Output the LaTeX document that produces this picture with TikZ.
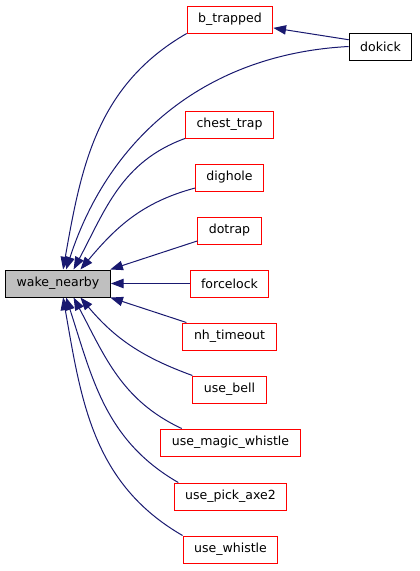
\documentclass[tikz,border=0pt]{standalone}
\usepackage{fontspec}
\setmainfont{DejaVu Sans}
\usetikzlibrary{arrows.meta}

\begin{document}
\begin{tikzpicture}[x=0.75pt,y=-0.75pt,
      every node/.style={font=\fontsize{9.4}{11}\selectfont},
      fn/.style={draw=red,line width=0.75pt,minimum height=20.25pt,inner xsep=8.3pt},
      callee/.style={fn,draw=black,fill=black!25},
      caller/.style={fn,draw=black},
      edge/.style={draw={rgb,255:red,25;green,25;blue,112},line width=0.75pt,
        {Triangle[length=9.5pt,width=7pt]}-}]
    \fill[white] (0,0) rectangle (419,571);
    \useasboundingbox (0,0) rectangle (419,571);

    \node[callee] (wake) at (58,283.5) {wake\_nearby};

    \node[fn] (btrap)     at (230,19.5)    {b\_trapped};
    \node[caller] (dokick) at (380.5,46.5) {dokick};
    \node[fn] (chest)     at (229.5,124.5) {chest\_trap};
    \node[fn] (dighole)   at (229.5,177.5) {dighole};
    \node[fn] (dotrap)    at (229.5,230.5) {dotrap};
    \node[fn] (forcelock) at (229.5,283.5) {forcelock};
    \node[fn] (nhtime)    at (229.5,336.5) {nh\_timeout};
    \node[fn] (usebell)   at (229.5,389.5) {use\_bell};
    \node[fn] (magic)     at (230.5,442.5) {use\_magic\_whistle};
    \node[fn] (pickaxe)   at (230.5,496.5) {use\_pick\_axe2};
    \node[fn] (whistle)   at (230.5,549.5) {use\_whistle};

    % callers above
    \draw[edge] (wake.70) to[out=80,in=210] (btrap.south west);
    \draw[edge] (wake.60) to[out=72,in=183] (dokick.west);
    \draw[edge] (btrap.-11) -- (dokick.168);
    \draw[edge] (wake.42) to[out=62,in=200] (chest.south west);
    \draw[edge] (wake.32) to[out=50,in=195] (dighole.197);
    \draw[edge] (wake.15) -- (dotrap.198);
    \draw[edge] (wake.east) -- (forcelock.west);

    % callers below
    \draw[edge] (wake.-15) -- (nhtime.162);
    \draw[edge] (wake.-32) to[out=-50,in=160] (usebell.north west);
    \draw[edge] (wake.-42) to[out=-62,in=155] (magic.164);
    \draw[edge] (wake.-60) to[out=-72,in=150] (pickaxe.165);
    \draw[edge] (wake.-70) to[out=-80,in=150] (whistle.north west);
  \end{tikzpicture}
\end{document}
